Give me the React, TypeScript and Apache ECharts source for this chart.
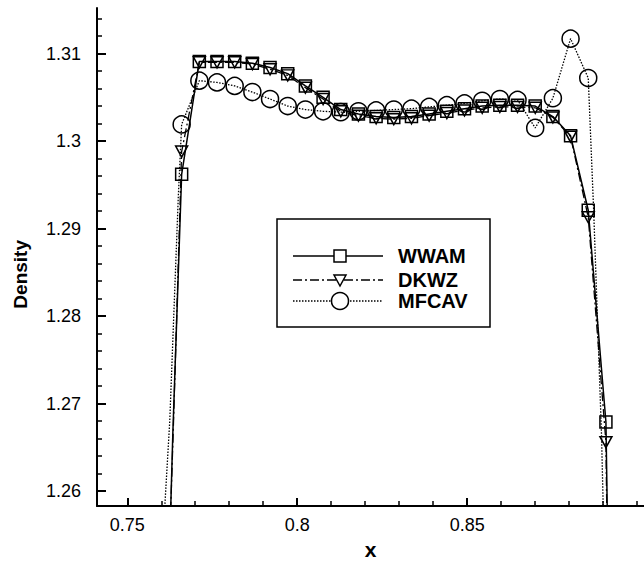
import { useEffect, useRef } from "react";
import * as echarts from "echarts";

// Mesh nodes (x) shared by the three schemes
const X_NODES = [
  0.766, 0.7712, 0.7764, 0.7816, 0.7868, 0.792, 0.7972, 0.8024, 0.8076, 0.8128,
  0.818, 0.8232, 0.8284, 0.8336, 0.8388, 0.844, 0.8492, 0.8544, 0.8596, 0.8648,
  0.87, 0.8752, 0.8804, 0.8856, 0.8908,
];

// Density at each node
const WWAM = [
  1.2962, 1.3091, 1.3091, 1.3091, 1.3089, 1.3084, 1.3077, 1.3063, 1.305, 1.3036,
  1.3031, 1.3028, 1.3027, 1.3028, 1.3031, 1.3034, 1.3037, 1.304, 1.3041, 1.3041,
  1.304, 1.3028, 1.3006, 1.2921, 1.2679,
];
const DKWZ = [
  1.2988, 1.309, 1.309, 1.309, 1.3088, 1.3082, 1.3075, 1.3061, 1.3048, 1.3034,
  1.3029, 1.3026, 1.3025, 1.3026, 1.3029, 1.3032, 1.3035, 1.3038, 1.3039, 1.3039,
  1.3038, 1.3027, 1.3005, 1.2913, 1.2656,
];
const MFCAV = [
  1.3019, 1.3069, 1.3067, 1.3063, 1.3056, 1.3048, 1.304, 1.3036, 1.3034, 1.3033,
  1.3034, 1.3035, 1.3036, 1.3037, 1.3039, 1.3041, 1.3043, 1.3046, 1.3048, 1.3047,
  1.3015, 1.3049, 1.3117, 1.3072,
];

// Curve continuation below the plotted window (drawn without symbols)
const WWAM_LEFT_TAIL = [[0.7622, 1.25], [0.7634, 1.2665]];
const WWAM_RIGHT_TAIL = [[0.8915, 1.25]];
const DKWZ_LEFT_TAIL = [[0.7621, 1.25], [0.7635, 1.2665]];
const DKWZ_RIGHT_TAIL = [[0.8913, 1.25]];
const MFCAV_LEFT_TAIL = [[0.7598, 1.25], [0.7625, 1.268], [0.765, 1.2935]];
const MFCAV_RIGHT_TAIL = [[0.8872, 1.292], [0.8895, 1.2665], [0.8905, 1.25]];

// Axis ticks
const X_MAJOR = [0.75, 0.8, 0.85];
const X_MINOR = [0.76, 0.77, 0.78, 0.79, 0.81, 0.82, 0.83, 0.84, 0.86, 0.87, 0.88, 0.89, 0.9];
const Y_MAJOR = [1.26, 1.27, 1.28, 1.29, 1.3, 1.31];
const Y_MINOR = [
  1.262, 1.264, 1.266, 1.268, 1.272, 1.274, 1.276, 1.278, 1.282, 1.284, 1.286, 1.288,
  1.292, 1.294, 1.296, 1.298, 1.302, 1.304, 1.306, 1.308, 1.312, 1.314,
];

const X_MIN = 0.7411;
const X_MAX = 0.902;
const Y_MIN = 1.2583;
const Y_MAX = 1.3152;

const FONT = "'Liberation Sans', Arial, Helvetica, sans-serif";

type Pt = number[];

function buildData(left: Pt[], ys: number[], right: Pt[]) {
  const hidden = (p: Pt) => ({ value: p, symbol: "none" });
  return [
    ...left.map(hidden),
    ...ys.map((y, i) => ({ value: [X_NODES[i], y] })),
    ...right.map(hidden),
  ];
}

export default function App() {
  const ref = useRef<HTMLDivElement>(null);

  useEffect(() => {
    if (!ref.current) return;
    const chart = echarts.init(ref.current, null, { renderer: "svg" });

    const axisCommon = {
      type: "value" as const,
      splitLine: { show: false },
    };

    const markerStyle = {
      color: "rgba(255,255,255,0)",
      borderColor: "#000",
      borderWidth: 1.5,
    };

    // Legend drawn as a framed box
    const lx0 = 293;
    const lx1 = 383;
    const mx = 340;
    const tx = 398;
    const rows = [256, 280, 301];

    chart.setOption({
      animation: false,
      backgroundColor: "#fff",
      grid: { left: 97, top: 8, right: 0, bottom: 52, containLabel: false },
      xAxis: [
        {
          ...axisCommon,
          position: "bottom",
          min: X_MIN,
          max: X_MAX,
          axisLine: { show: true, onZero: false, lineStyle: { color: "#000", width: 2 } },
          axisTick: {
            show: true,
            inside: true,
            length: 8,
            customValues: X_MAJOR,
            lineStyle: { color: "#000", width: 2 },
          },
          axisLabel: {
            show: true,
            customValues: X_MAJOR,
            margin: 10,
            color: "#000",
            fontSize: 18,
            fontFamily: FONT,
            formatter: (v: number) => String(v),
          },
          name: "x",
          nameLocation: "middle",
          nameGap: 27,
          nameTextStyle: { color: "#000", fontSize: 21, fontWeight: "bold", fontFamily: FONT },
        },
        {
          ...axisCommon,
          position: "bottom",
          min: X_MIN,
          max: X_MAX,
          axisLine: { show: false },
          axisTick: {
            show: true,
            inside: true,
            length: 5,
            customValues: X_MINOR,
            lineStyle: { color: "#000", width: 1.5 },
          },
          axisLabel: { show: false },
        },
      ],
      yAxis: [
        {
          ...axisCommon,
          position: "left",
          min: Y_MIN,
          max: Y_MAX,
          axisLine: { show: true, onZero: false, lineStyle: { color: "#000", width: 2 } },
          axisTick: {
            show: true,
            inside: true,
            length: 9,
            customValues: Y_MAJOR,
            lineStyle: { color: "#000", width: 2 },
          },
          axisLabel: {
            show: true,
            customValues: Y_MAJOR,
            margin: 16,
            color: "#000",
            fontSize: 18,
            fontFamily: FONT,
            formatter: (v: number) => String(v),
          },
        },
        {
          ...axisCommon,
          position: "left",
          min: Y_MIN,
          max: Y_MAX,
          axisLine: { show: false },
          axisTick: {
            show: true,
            inside: true,
            length: 5,
            customValues: Y_MINOR,
            lineStyle: { color: "#000", width: 1.5 },
          },
          axisLabel: { show: false },
        },
      ],
      series: [
        {
          type: "line",
          name: "WWAM",
          data: buildData(WWAM_LEFT_TAIL, WWAM, WWAM_RIGHT_TAIL),
          symbol: "rect",
          symbolSize: 12,
          showAllSymbol: true,
          clip: true,
          lineStyle: { color: "#000", width: 1.5, type: "solid" },
          itemStyle: markerStyle,
          z: 3,
        },
        {
          type: "line",
          name: "DKWZ",
          data: buildData(DKWZ_LEFT_TAIL, DKWZ, DKWZ_RIGHT_TAIL),
          symbol: "triangle",
          symbolRotate: 180,
          symbolSize: [12, 11],
          showAllSymbol: true,
          clip: true,
          lineStyle: { color: "#000", width: 1.3, type: [9, 3, 2, 3] },
          itemStyle: markerStyle,
          z: 3,
        },
        {
          type: "line",
          name: "MFCAV",
          data: buildData(MFCAV_LEFT_TAIL, MFCAV, MFCAV_RIGHT_TAIL),
          symbol: "circle",
          symbolSize: 17,
          showAllSymbol: true,
          clip: true,
          lineStyle: { color: "#000", width: 1.3, type: [1.5, 1.5] },
          itemStyle: markerStyle,
          z: 3,
        },
      ],
      graphic: [
        {
          type: "text",
          left: 11,
          top: 240,
          rotation: Math.PI / 2,
          style: {
            text: "Density",
            fill: "#000",
            font: `bold 19px ${FONT}`,
          },
        },
        {
          type: "group",
          z: 10,
          children: [
            {
              type: "rect",
              shape: { x: 277, y: 219, width: 213, height: 108 },
              style: { fill: "#fff", stroke: "#000", lineWidth: 1.5 },
            },
            {
              type: "line",
              shape: { x1: lx0, y1: rows[0], x2: lx1, y2: rows[0] },
              style: { stroke: "#000", lineWidth: 1.5 },
            },
            {
              type: "rect",
              shape: { x: mx - 6, y: rows[0] - 6, width: 12, height: 12 },
              style: { fill: "#fff", stroke: "#000", lineWidth: 1.5 },
            },
            {
              type: "line",
              shape: { x1: lx0, y1: rows[1], x2: lx1, y2: rows[1] },
              style: { stroke: "#000", lineWidth: 1.3, lineDash: [9, 3, 2, 3] },
            },
            {
              type: "polygon",
              shape: { points: [[mx - 6, rows[1] - 5], [mx + 6, rows[1] - 5], [mx, rows[1] + 6]] },
              style: { fill: "#fff", stroke: "#000", lineWidth: 1.5 },
            },
            {
              type: "line",
              shape: { x1: lx0, y1: rows[2], x2: lx1, y2: rows[2] },
              style: { stroke: "#000", lineWidth: 1.3, lineDash: [1.5, 1.5] },
            },
            {
              type: "circle",
              shape: { cx: mx, cy: rows[2], r: 8.5 },
              style: { fill: "#fff", stroke: "#000", lineWidth: 1.5 },
            },
            {
              type: "text",
              x: tx,
              y: rows[0],
              style: { text: "WWAM", fill: "#000", font: `bold 20px ${FONT}`, verticalAlign: "middle" },
            },
            {
              type: "text",
              x: tx,
              y: rows[1],
              style: { text: "DKWZ", fill: "#000", font: `bold 20px ${FONT}`, verticalAlign: "middle" },
            },
            {
              type: "text",
              x: tx,
              y: rows[2],
              style: { text: "MFCAV", fill: "#000", font: `bold 20px ${FONT}`, verticalAlign: "middle" },
            },
          ],
        },
      ],
    });

    return () => chart.dispose();
  }, []);

  return (
    <div
      ref={ref}
      style={{ position: "absolute", left: 0, top: 0, width: 644, height: 565, background: "#fff" }}
    />
  );
}
